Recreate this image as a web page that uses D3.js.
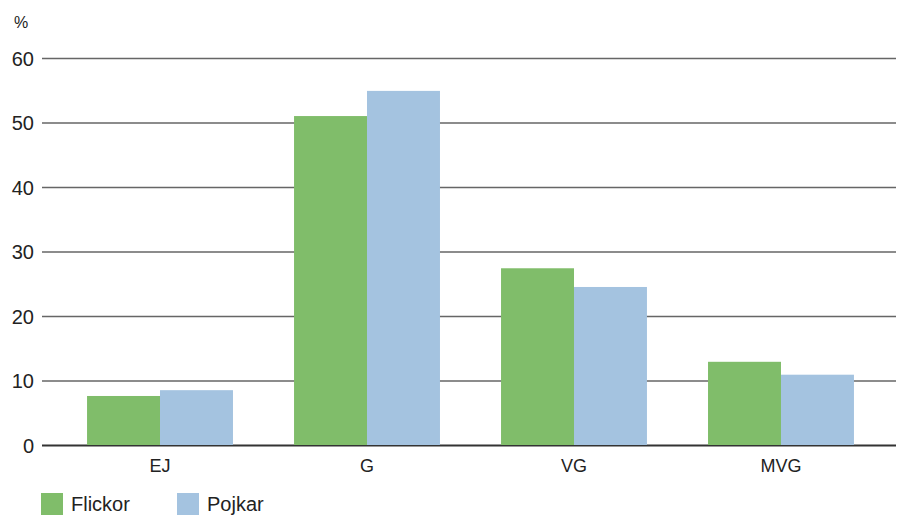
<!DOCTYPE html>
<html>
<head>
<meta charset="utf-8">
<script src="https://cdn.jsdelivr.net/npm/d3@7/dist/d3.min.js"></script>
<style>
  html, body { margin: 0; padding: 0; background: #fff; }
  svg { display: block; font-family: "Liberation Sans", Arial, sans-serif; }
</style>
</head>
<body>
<svg id="chart" width="897" height="516"></svg>
<script>
// Betygsfördelning per kön (%)
const categories = ["EJ", "G", "VG", "MVG"];
const seriesNames = ["Flickor", "Pojkar"];
const flickor = [7.6, 51.0, 27.4, 12.9];
const pojkar = [8.5, 54.9, 24.5, 10.9];
const yTicks = [0, 10, 20, 30, 40, 50, 60];
const colors = ["#80bd6a", "#a4c3e0"];

const svg = d3.select("#chart");
const gridLeft = 42, gridRight = 896;
const y = d3.scaleLinear().domain([0, 60]).range([445, 58]);
const x = d3.scaleBand().domain(categories).range([56, 885]).paddingInner(0.295).paddingOuter(0.15);
const xs = d3.scaleBand().domain(seriesNames).range([0, x.bandwidth()]);

// Gridlines and tick labels
const yAxis = d3.axisLeft(y).tickValues(yTicks).tickSize(-(gridRight - gridLeft)).tickPadding(8);
const gy = svg.append("g").attr("transform", `translate(${gridLeft},0)`).call(yAxis);
gy.select(".domain").remove();
gy.selectAll(".tick line").attr("stroke", d => d === 0 ? "#333" : "#666").attr("stroke-width", d => d === 0 ? 2 : 1.3);
gy.selectAll(".tick text").attr("fill", "#222").attr("font-size", 20).attr("x", -8).attr("dy", "0.36em");

svg.append("text").attr("x", 14).attr("y", 28).attr("font-size", 16).attr("fill", "#222").text("%");

// Bars
const data = categories.map((c, i) => ({ cat: c, vals: [flickor[i], pojkar[i]] }));
const groups = svg.append("g").selectAll("g").data(data).join("g")
  .attr("transform", d => `translate(${x(d.cat)},0)`);
groups.selectAll("rect").data(d => d.vals.map((v, j) => ({ s: seriesNames[j], v, j })))
  .join("rect")
  .attr("x", d => xs(d.s))
  .attr("width", xs.bandwidth())
  .attr("y", d => y(d.v))
  .attr("height", d => y(0) - y(d.v))
  .attr("fill", d => colors[d.j]);

// Category axis
const xAxis = d3.axisBottom(x).tickSize(0).tickPadding(14);
const gx = svg.append("g").attr("transform", "translate(0,445)").call(xAxis);
gx.select(".domain").remove();
gx.selectAll("text").attr("font-size", 18).attr("fill", "#222");

// Legend
const legendX = [41, 177];
const lg = svg.append("g").selectAll("g").data(seriesNames).join("g")
  .attr("transform", (d, i) => `translate(${legendX[i]},493)`);
lg.append("rect").attr("width", 22).attr("height", 22).attr("fill", (d, i) => colors[i]);
lg.append("text").attr("x", 30).attr("y", 18).attr("font-size", 20).attr("fill", "#222").text(d => d);
</script>
</body>
</html>
